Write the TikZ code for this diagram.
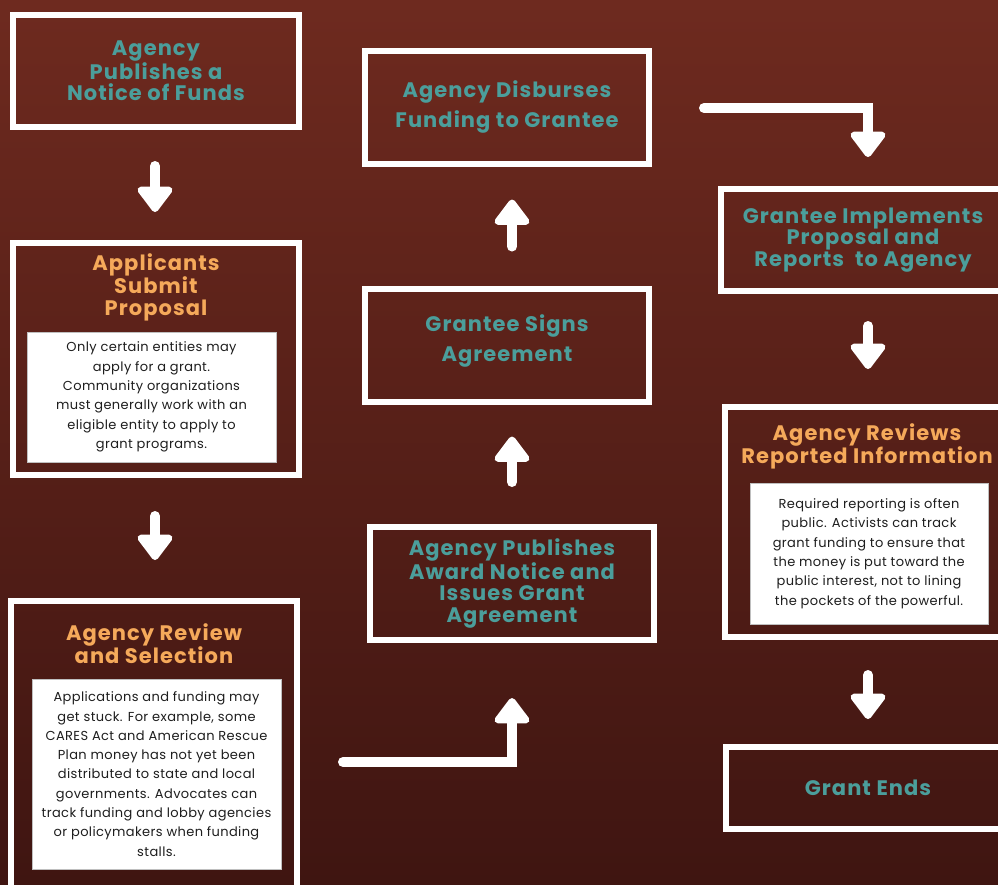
\documentclass[tikz,border=0pt]{standalone}
\usepackage{fontspec}
\setmainfont{Poppins}
\newfontfamily\headfont{Poppins}[LetterSpace=5]
\newfontfamily\notefont{Poppins}[LetterSpace=3]
\usetikzlibrary{arrows.meta,positioning,calc}
\definecolor{bgtop}{HTML}{6E2A1F}
\definecolor{bgbot}{HTML}{3F1511}
\definecolor{tealtxt}{HTML}{4B9E9B}
\definecolor{orangetxt}{HTML}{F5A95A}
\definecolor{notetxt}{HTML}{1E1E1E}
\tikzset{
    stepbox/.style  = {rectangle, draw=white, line width=6pt, minimum width=284pt, inner sep=0pt},
    title/.style    = {align=center, text=tealtxt, font=\headfont\fontsize{21}{21.5}\selectfont\bfseries},
    headline/.style = {title, text=orangetxt},
    note/.style     = {rectangle, fill=white, draw=black!25, line width=0.6pt, align=center,
                       text=notetxt, font=\notefont\fontsize{13}{19.3}\selectfont},
    flow/.style     = {draw=white, line width=10pt, line cap=round,
                       -{Triangle[length=28pt, width=40pt, round]}}
}

\begin{document}
\begin{tikzpicture}[x=1pt, y=-1pt,
        wide/.style = {title, font=\headfont\fontsize{21}{30}\selectfont\bfseries}
    ]
        \useasboundingbox (0,0) rectangle (998,884);
        \fill[top color=bgtop, bottom color=bgbot] (0,0) rectangle (998,884);
        \clip (0,0) rectangle (998,884);

        % Left column
        \node[stepbox, minimum width=286pt, minimum height=112pt] (notice) at (156,71) {};
        \node[title] at (notice.center) {Agency\\Publishes a\\Notice of Funds};

        \node[stepbox, minimum width=286pt, minimum height=232pt] (submit) at (156,359) {};
        \node[headline] (submith) at (156,287) {Applicants\\Submit\\Proposal};
        \node[note, minimum width=249pt, minimum height=130pt] (submitn) at (151.5,397)
            {Only certain entities may\\apply for a grant.\\Community organizations\\must generally work with an\\eligible entity to apply to\\grant programs.};

        \node[stepbox, minimum width=286pt, minimum height=288pt] (review) at (154,745) {};
        \node[headline] (reviewh) at (154,643.5) {Agency Review\\and Selection};
        \node[note, minimum width=249pt, minimum height=190pt] (reviewn) at (156.5,774)
            {Applications and funding may\\get stuck. For example, some\\CARES Act and American Rescue\\Plan money has not yet been\\distributed to state and local\\governments. Advocates can\\track funding and lobby agencies\\or policymakers when funding\\stalls.};

        % Middle column
        \node[stepbox, minimum height=113pt] (award) at (512,583.5) {};
        \node[title] at (award.center) {Agency Publishes\\Award Notice and\\Issues Grant\\Agreement};

        \node[stepbox, minimum height=113pt] (signs) at (507,345) {};
        \node[wide] at (507,341) {Grantee Signs\\Agreement};

        \node[stepbox, minimum height=113pt] (disburse) at (507,107) {};
        \node[wide] at (disburse.center) {Agency Disburses\\Funding to Grantee};

        % Right column
        \node[stepbox, minimum height=102pt] (implement) at (863,240) {};
        \node[title] at (implement.center) {Grantee Implements\\Proposal and\\Reports\ \ to Agency};

        \node[stepbox, minimum height=230pt] (reports) at (867,522) {};
        \node[headline] (reportsh) at (867,446.5) {Agency Reviews\\Reported Information};
        \node[note, minimum width=238pt, minimum height=141pt] (reportsn) at (869,553.5)
            {Required reporting is often\\public. Activists can track\\grant funding to ensure that\\the money is put toward the\\public interest, not to lining\\the pockets of the powerful.};

        \node[stepbox, minimum height=82pt] (ends) at (868,788) {};
        \node[title] at (ends.center) {Grant Ends};

        % Arrows
        \coordinate (rvout) at (343,762);
        \coordinate (dsout) at (704,108);
        \draw[flow, shorten <=36pt, shorten >=28pt] ([xshift=-1pt]notice.south) -- ([xshift=-1pt]submit.north);
        \draw[flow, shorten <=38pt, shorten >=38pt] ([xshift=-1pt]submit.south) -- ([xshift=-1pt]submit.south |- review.north);
        \draw[flow, shorten >=55pt] (rvout) -| (award.south);
        \draw[flow, shorten <=42pt, shorten >=32pt] (award.north) -- (award.north |- signs.south);
        \draw[flow, shorten <=39pt, shorten >=33pt] ([xshift=5pt]signs.north) -- ([xshift=5pt]disburse.south);
        \draw[flow, shorten >=29pt] (dsout) -| ([xshift=5pt]implement.north);
        \draw[flow, shorten <=32pt, shorten >=35pt] ([xshift=5pt]implement.south) -- ([xshift=5pt]implement.south |- reports.north);
        \draw[flow, shorten <=35pt, shorten >=25pt] ([xshift=1pt]reports.south) -- ([xshift=1pt]reports.south |- ends.north);

    \end{tikzpicture}
\end{document}
